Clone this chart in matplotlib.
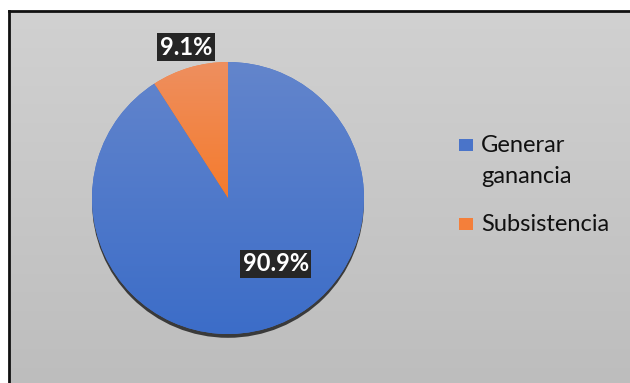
import numpy as np
import matplotlib
matplotlib.use("Agg")
import matplotlib.pyplot as plt
from matplotlib.colors import LinearSegmentedColormap
from matplotlib.patches import Rectangle, Circle

plt.rcParams['font.family'] = ['Lato', 'DejaVu Sans']

labels = ['Generar\nganancia', 'Subsistencia']
values = [90.9, 9.1]
pct_labels = ['90.9%', '9.1%']
base_colors = ['#4A74C9', '#F47F3A']
grad_colors = [('#6385CC', '#3C6DC8'), ('#EE8F5F', '#F57B2D')]

W, H = 630, 383
fig = plt.figure(figsize=(W / 100, H / 100), dpi=100)
fig.patch.set_facecolor('white')

# gray chart area with a black top/left frame
bg = fig.add_axes([8.5 / W, -0.01, 1.0, (H - 10.5) / H + 0.01])
grad = np.linspace(0, 1, 256).reshape(-1, 1)
bg_cmap = LinearSegmentedColormap.from_list('bg', ['#D1D1D1', '#BDBDBD'])
bg.imshow(grad, cmap=bg_cmap, aspect='auto', extent=[0, 1, 0, 1], origin='upper')
bg.set_xticks([])
bg.set_yticks([])
for side in ['right', 'bottom']:
    bg.spines[side].set_visible(False)
for side in ['top', 'left']:
    bg.spines[side].set_linewidth(2)
    bg.spines[side].set_color('#111111')

# pie axes: radius 1 == 136 px, centre at (228, 198)
cx, cy, r = 228, 198, 136
lim = 1.3
size = 2 * lim * r
ax = fig.add_axes([(cx - size / 2) / W, (H - cy - size / 2) / H, size / W, size / H])
ax.set_xlim(-lim, lim)
ax.set_ylim(-lim, lim)
ax.axis('off')

# shadow under the pie
ax.add_patch(Circle((0.0, -0.028), 1.0, facecolor='#3A3A3A', edgecolor='none', zorder=1))

wedges, _ = ax.pie(values, colors=base_colors, startangle=90, counterclock=False,
                   radius=1.0, wedgeprops=dict(linewidth=0, zorder=2))

# vertical gradient inside each slice
for w, (c_top, c_bot) in zip(wedges, grad_colors):
    ext = w.get_path().get_extents()
    cm = LinearSegmentedColormap.from_list('g', [c_top, c_bot])
    im = ax.imshow(grad, cmap=cm, aspect='auto', origin='upper',
                   extent=[ext.x0, ext.x1, ext.y0, ext.y1], zorder=3)
    im.set_clip_path(w)
ax.set_xlim(-lim, lim)
ax.set_ylim(-lim, lim)

# data labels
label_pos = [(0.35, -0.485), (-0.31, 1.11)]
for txt, (x, y) in zip(pct_labels, label_pos):
    ax.text(x, y, txt, ha='center', va='center', fontsize=17, fontweight='bold',
            color='white', zorder=5,
            bbox=dict(boxstyle='square,pad=0.12', facecolor='#262626', edgecolor='none'))

# legend, laid out in pixels; one baseline per text line
entry_baselines = [152, 231]
line_step = 31
for lab, col, yb in zip(labels, base_colors, entry_baselines):
    fig.add_artist(Rectangle((459 / W, 1 - (yb - 1) / H), 14 / W, 12 / H,
                             transform=fig.transFigure, facecolor=col, edgecolor='none'))
    for i, line in enumerate(lab.split('\n')):
        fig.text(481 / W, 1 - (yb + i * line_step) / H, line, fontsize=17,
                 color='#111111', ha='left', va='baseline')

fig.savefig('out.png', dpi=100)
